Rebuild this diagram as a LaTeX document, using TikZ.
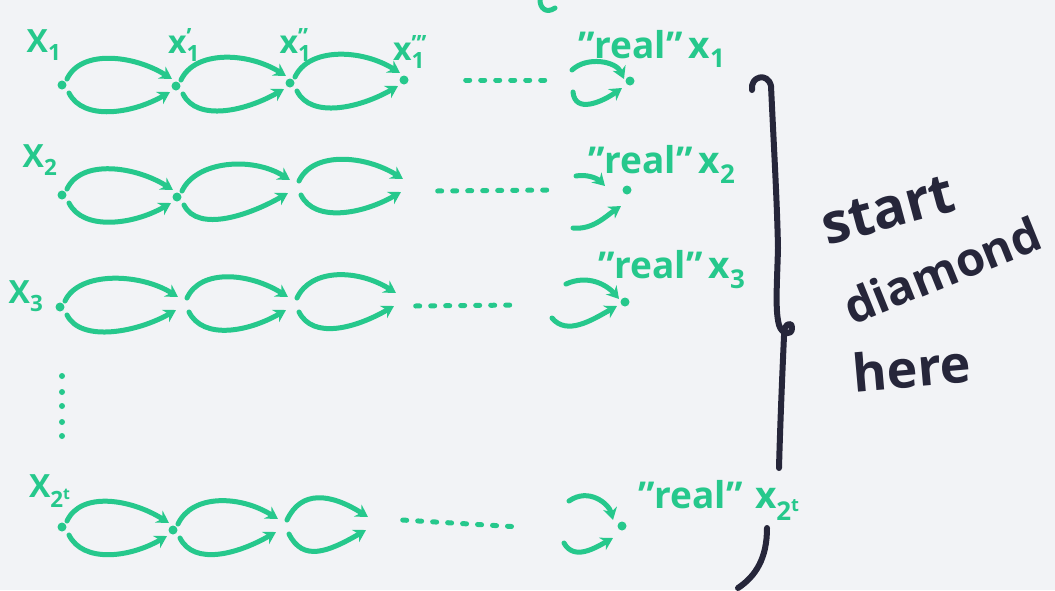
\documentclass[tikz,border=0pt]{standalone}
\usepackage{fontspec}
\setmainfont{Open Sans}
\usetikzlibrary{arrows.meta}
\definecolor{mk}{RGB}{38,200,140}
\definecolor{ink}{RGB}{38,38,58}
\definecolor{paper}{RGB}{242,243,246}
\tikzset{
  pen/.style={draw=mk, line width=5pt, line cap=round},
  arr/.style={pen, -{Stealth[length=12pt,width=14pt]}},
  dot/.style={circle, fill=mk, inner sep=0pt, minimum size=9pt},
  pt/.style={inner sep=0pt, minimum size=1pt},
  lab/.style={text=mk, font=\fontsize{32}{34}\selectfont\bfseries, inner sep=0pt},
  real/.style={text=mk, font=\fontsize{37}{39}\selectfont\bfseries, inner sep=0pt, anchor=base west},
  dashline/.style={draw=mk, line width=5pt, dash pattern=on 4pt off 11pt, line cap=round},
  brace/.style={draw=ink, line width=6pt, line cap=round, line join=round},
  note/.style={text=ink, inner sep=0pt},
}
\newcommand\lp[2]{%
  \draw[arr] ([shift={(5,-6)}]#1.center) .. controls +(14,-30) and +(-38,-24) .. ([shift={(-4,-7)}]#2.center);
  \draw[arr] ([shift={(7,8)}]#1.center) .. controls +(14,28) and +(-38,22) .. ([shift={(-6,6)}]#2.center);}
\begin{document}
\begin{tikzpicture}[x=1pt,y=-1pt]
\fill[paper] (0,0) rectangle (1055,590);
\useasboundingbox (0,0) rectangle (1055,590);

% fragment at top
\draw[pen] (540,0) .. controls (540,8) and (546,14) .. (555,8);

% ---------- row 1
\node[dot] (r1a) at (62,85) {};
\node[dot] (r1b) at (176,86) {};
\node[dot] (r1c) at (290,83) {};
\node[dot] (r1d) at (404,80) {};
\node[pt] (r1e) at (465,80) {};
\node[pt] (r1f) at (550,80) {};
\node[dot] (r1z) at (630,81) {};
\node[lab] (l1a) at (44,45) {X\textsubscript{1}};
\node[lab] (l1b) at (180,45) {x\rlap{\textsubscript{1}}\textsuperscript{'}};
\node[lab] (l1c) at (294,45) {x\rlap{\textsubscript{1}}\textsuperscript{''}};
\node[lab] (l1d) at (410,52) {x\rlap{\textsubscript{1}}\textsuperscript{'''}};
\lp{r1a}{r1b}\lp{r1b}{r1c}\lp{r1c}{r1d}
\draw[dashline] (r1e) -- (r1f);
\coordinate (u1) at (572,70);
\coordinate (w1) at (573,92);
\draw[arr] (u1) .. controls +(15,-14) and +(-8,-18) .. ([shift={(-6,-2)}]r1z.center);
\draw[arr] (w1) .. controls +(2,22) and +(-20,14) .. ([shift={(-8,7)}]r1z.center);
\node[real] (t1) at (578,58) {"real"\,x\textsubscript{1}};

% ---------- row 2
\node[dot] (r2a) at (62,195) {};
\node[dot] (r2b) at (177,197) {};
\node[pt] (r2c) at (294,187) {};
\node[pt] (r2d) at (407,186) {};
\node[pt] (r2e) at (437,191) {};
\node[pt] (r2f) at (553,190) {};
\node[dot] (r2z) at (627,190) {};
\node[lab] (l2a) at (40,160) {X\textsubscript{2}};
\lp{r2a}{r2b}\lp{r2b}{r2c}\lp{r2c}{r2d}
\draw[dashline] (r2e) -- (r2f);
\coordinate (u2) at (576,176);
\coordinate (w2) at (573,228);
\draw[arr] (u2) .. controls +(10,-2) and +(-8,-8) .. ([shift={(-22,-4)}]r2z.center);
\draw[arr] (w2) .. controls +(20,2) and +(-15,10) .. ([shift={(-6,16)}]r2z.center);
\node[real] (t2) at (588,173) {"real"\,x\textsubscript{2}};

% ---------- row 3
\node[dot] (r3a) at (60,307) {};
\node[pt] (r3b) at (182,304) {};
\node[pt] (r3c) at (292,304) {};
\node[pt] (r3d) at (400,300) {};
\node[pt] (r3e) at (415,306) {};
\node[pt] (r3f) at (518,305) {};
\node[dot] (r3z) at (625,302) {};
\node[lab] (l3a) at (26,296) {X\textsubscript{3}};
\lp{r3a}{r3b}\lp{r3b}{r3c}\lp{r3c}{r3d}
\draw[dashline] (r3e) -- (r3f);
\coordinate (u3) at (566,284);
\coordinate (w3) at (552,318);
\draw[arr] (u3) .. controls +(22,-10) and +(-12,-14) .. ([shift={(-6,-3)}]r3z.center);
\draw[arr] (w3) .. controls +(15,18) and +(-25,14) .. ([shift={(-8,4)}]r3z.center);
\node[real] (t3) at (598,278) {"real"\,x\textsubscript{3}};

% ---------- vertical dots
\foreach \yy in {376,392,406,422,436} \fill[mk] (62,\yy) circle (3pt);

% ---------- row 4
\node[dot] (r4a) at (62,527) {};
\node[dot] (r4b) at (173,530) {};
\node[pt] (r4c) at (282,526) {};
\node[pt] (r4d) at (372,524) {};
\node[pt] (r4e) at (402,520) {};
\node[pt] (r4f) at (520,527) {};
\node[dot] (r4z) at (622,526) {};
\node[lab] (l4a) at (50,491) {X\textsubscript{2\textsuperscript{t}}};
\lp{r4a}{r4b}\lp{r4b}{r4c}\lp{r4c}{r4d}
\draw[dashline] (r4e) -- (r4f);
\coordinate (u4) at (569,501);
\coordinate (w4) at (564,543);
\draw[arr] (u4) .. controls +(20,-14) and +(-4,-16) .. ([shift={(-9,-6)}]r4z.center);
\draw[arr] (w4) .. controls +(10,18) and +(-18,10) .. ([shift={(-9,12)}]r4z.center);
\node[real] (t4) at (638,508) {"real"\,\,x\textsubscript{2\textsuperscript{t}}};

% ---------- brace
\draw[brace] (752,90) .. controls (750,76) and (768,72) .. (771,86)
  .. controls (774,150) and (777,200) .. (778,248)
  .. controls (777,285) and (775,310) .. (779,325)
  .. controls (782,335) and (792,336) .. (792,328)
  .. controls (792,320) and (783,324) .. (784,336)
  .. controls (782,380) and (780,430) .. (779,468);
\draw[brace] (767,528) .. controls (767,558) and (756,576) .. (738,588);

% ---------- note
\node[note, font=\fontsize{56}{58}\selectfont\bfseries, rotate=15] (n1) at (888,210) {start};
\node[note, font=\fontsize{47}{49}\selectfont\bfseries, rotate=22] (n2) at (942,270) {diamond};
\node[note, font=\fontsize{52}{54}\selectfont\bfseries, rotate=5] (n3) at (912,368) {here};
\end{tikzpicture}
\end{document}
